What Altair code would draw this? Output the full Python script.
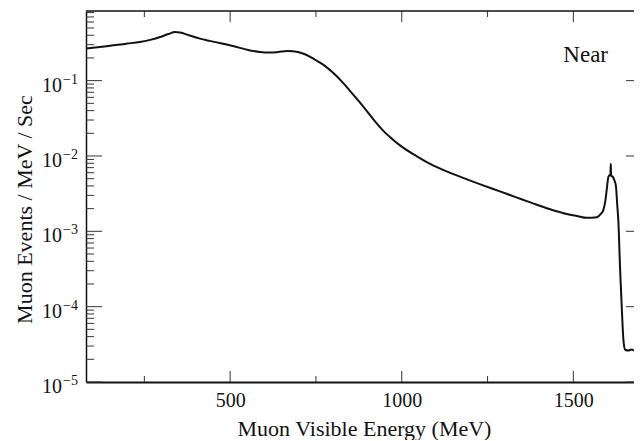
import altair as alt
import pandas as pd

# ---- curve ----
energy = [80, 120, 160, 200, 237, 270, 296, 320, 339, 354, 380, 412, 440, 470, 508,
          558, 587, 616, 640, 666, 683, 712, 733, 753, 776, 800, 829, 849, 873, 899,
          922, 945, 972, 995, 1044, 1091, 1141, 1190, 1237, 1286, 1330, 1382, 1430,
          1481, 1510, 1540, 1569, 1580, 1587, 1593, 1597, 1602, 1606, 1608, 1609, 1610,
          1612, 1616, 1620, 1624, 1628, 1631, 1636, 1641, 1646, 1651, 1660, 1670, 1680,
          1690, 1700]
rate = [0.266, 0.28, 0.294, 0.31, 0.326, 0.35, 0.379, 0.415, 0.441, 0.434, 0.40, 0.361,
        0.337, 0.315, 0.288, 0.252, 0.240, 0.236, 0.240, 0.247, 0.245, 0.229, 0.207,
        0.183, 0.157, 0.127, 0.0935, 0.0733, 0.0547, 0.0391, 0.0288, 0.0219, 0.01686,
        0.01384, 0.00989, 0.0075, 0.00597, 0.00489, 0.00407, 0.00339, 0.00286,
        0.00235, 0.00198, 0.0017, 0.0016, 0.00151, 0.00154, 0.0017, 0.0019, 0.0025,
        0.0035, 0.00525, 0.0056, 0.0055, 0.0079, 0.0055, 0.0054, 0.0052, 0.0047,
        0.0040, 0.0022, 0.0014, 0.00033, 0.000098, 0.0000356, 0.0000268, 0.0000262,
        0.000027, 0.0000258, 0.000026, 0.0000255]

# ---- axes ----
x_major = [500, 1000, 1500]
x_minor = [250, 750, 1250]
y_major = [1e-5, 1e-4, 1e-3, 1e-2, 1e-1]
y_exp = ["\u22125", "\u22124", "\u22123", "\u22122", "\u22121"]
y_minor = [m * 10.0 ** e for e in range(-5, 0) for m in range(2, 10)]

annot_x = [1601]
annot_y = [0.177]
annot_t = ["Near"]

X_DOMAIN = [80, 1700]
Y_DOMAIN = [1e-5, 0.84]
W, H = 556, 371
FONT = "Liberation Serif"
INK = "#111111"
XT = "Muon Visible Energy (MeV)"
YT = "Muon Events / MeV / Sec"

xs = alt.Scale(domain=X_DOMAIN, nice=False, zero=False)
ys = alt.Scale(type="log", domain=Y_DOMAIN, nice=False)

x_axis = alt.Axis(
    values=x_major, format="d", grid=False, ticks=False, tickSize=0,
    labelFont=FONT, labelFontSize=20, labelColor=INK,
    labelPadding=24, labelBaseline="alphabetic",
    domain=True, domainColor=INK, domainWidth=2,
    titleFont=FONT, titleFontSize=22,
    titleFontWeight="normal", titleColor=INK, titleBaseline="alphabetic",
    titleY=53)
y_axis = alt.Axis(
    labels=False, ticks=False, tickSize=0, grid=False,
    domain=True, domainColor=INK, domainWidth=1.5,
    titleFont=FONT, titleFontSize=22,
    titleFontWeight="normal", titleColor=INK, titleBaseline="alphabetic",
    titleAngle=270, titleAlign="center", titleX=-55, titleY=198)

curve = alt.Chart(pd.DataFrame({"e": energy, "r": rate})).mark_line(
    color=INK, strokeWidth=2, interpolate="monotone", clip=True
).encode(
    x=alt.X("e:Q", scale=xs, axis=x_axis, title=XT),
    y=alt.Y("r:Q", scale=ys, axis=y_axis, title=YT),
)

ymaj = pd.DataFrame({"v": y_major, "ex": y_exp})
ymin = pd.DataFrame({"v": [v for v in y_minor if v <= Y_DOMAIN[1]]})
xmaj = pd.DataFrame({"v": x_major})
xmin = pd.DataFrame({"v": x_minor})


def ytick(df, x1, x2):
    return alt.Chart(df).mark_rule(color="#333333", strokeWidth=1).encode(
        y=alt.Y("v:Q", scale=ys, axis=y_axis, title=YT), x=alt.value(x1), x2=alt.value(x2))


def xtick(df, y1, y2):
    return alt.Chart(df).mark_rule(color="#333333", strokeWidth=1).encode(
        x=alt.X("v:Q", scale=xs, axis=x_axis, title=XT), y=alt.value(y1), y2=alt.value(y2))


ticks = [
    ytick(ymaj, 0, 16), ytick(ymin, 0, 8),
    ytick(ymaj, W, W - 16), ytick(ymin, W, W - 8),
    xtick(xmaj, H, H - 11), xtick(xmin, H, H - 6),
    xtick(xmaj, 0, 11), xtick(xmin, 0, 6),
]

top_line = alt.Chart(pd.DataFrame({"v": [0]})).mark_rule(color=INK, strokeWidth=1.5).encode(
    x=alt.value(0), x2=alt.value(W), y=alt.value(0))

base_lbl = alt.Chart(ymaj).mark_text(
    font=FONT, fontSize=20, align="right", baseline="alphabetic", dy=11, color=INK
).encode(y=alt.Y("v:Q", scale=ys, axis=y_axis, title=YT), x=alt.value(-24), text=alt.value("10"))

exp_lbl = alt.Chart(ymaj).mark_text(
    font=FONT, fontSize=14, align="right", baseline="alphabetic", dy=3, color=INK
).encode(y=alt.Y("v:Q", scale=ys, axis=y_axis, title=YT), x=alt.value(-8), text="ex:N")

near = alt.Chart(pd.DataFrame({"x": annot_x, "y": annot_y, "t": annot_t})).mark_text(
    font=FONT, fontSize=23, align="right", baseline="alphabetic", color=INK
).encode(x=alt.X("x:Q", scale=xs, axis=x_axis, title=XT),
         y=alt.Y("y:Q", scale=ys, axis=y_axis, title=YT), text="t:N")

chart = alt.layer(curve, *ticks, top_line, base_lbl, exp_lbl, near).properties(
    width=W, height=H,
    autosize=alt.AutoSizeParams(type="none"),
    padding={"left": 78, "top": 3, "right": -8, "bottom": 58},
    background="white",
).configure_view(strokeOpacity=0)

chart.save("out.html", embed_options={"renderer": "svg", "actions": False})
